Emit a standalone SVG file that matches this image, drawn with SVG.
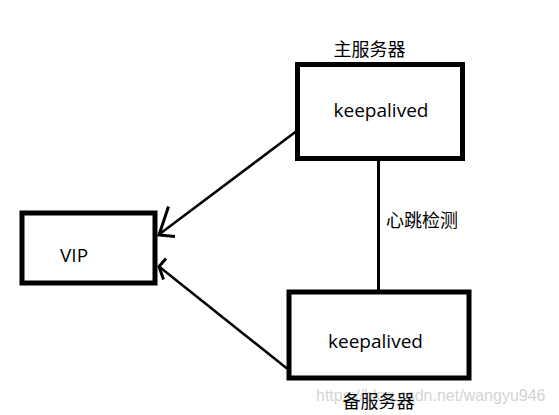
<svg xmlns="http://www.w3.org/2000/svg" width="559" height="415" viewBox="0 0 559 415">
<style>
.box{fill:#fff;stroke:#000;stroke-width:5}
.t{font-family:"Open Sans","Noto Sans CJK SC",sans-serif;font-size:19px;fill:#000}
.cn{font-family:"Noto Sans CJK SC",sans-serif;font-size:18px;fill:#000}
.ln{fill:none;stroke:#000;stroke-width:2.5;stroke-linecap:butt}
.hd{fill:none;stroke:#000;stroke-width:3;stroke-linecap:butt;stroke-linejoin:miter}
.wm{font-family:"Liberation Sans",sans-serif;font-size:16px;fill:#c8c8c8;fill-opacity:0.8}
</style>
<rect width="559" height="415" fill="#fff"/>
<g id="connectors">
<line class="ln" x1="378.5" y1="160" x2="378.5" y2="290" style="stroke-width:3"/>
<line class="ln" x1="296" y1="131.5" x2="159" y2="234.5"/>
<path class="hd" d="M168.5,206.5 L159,235 L175,236.5"/>
<line class="ln" x1="287" y1="368.5" x2="159" y2="266.5"/>
<path class="hd" d="M166,258.5 L159,266.5 L163.5,279.5"/>
</g>
<g id="main">
<rect class="box" x="297.5" y="64.5" width="165" height="94"/>
<text class="t" x="381" y="117" text-anchor="middle">keepalived</text>
<text class="cn" x="369.5" y="56" text-anchor="middle">主服务器</text>
</g>
<g id="vip">
<rect class="box" x="22" y="213" width="133" height="70"/>
<text class="t" x="60" y="262">VIP</text>
</g>
<g id="backup">
<rect class="box" x="289" y="292" width="180" height="86"/>
<text class="t" x="375.5" y="348" text-anchor="middle">keepalived</text>
</g>
<g id="heartbeat-label">
<text class="cn" x="422" y="227" text-anchor="middle">心跳检测</text>
</g>
<text class="wm" x="316" y="401">https://blog.csdn.net/wangyu946</text>
<g id="backup-label">
<text class="cn" x="378.5" y="408" text-anchor="middle">备服务器</text>
</g>
</svg>
